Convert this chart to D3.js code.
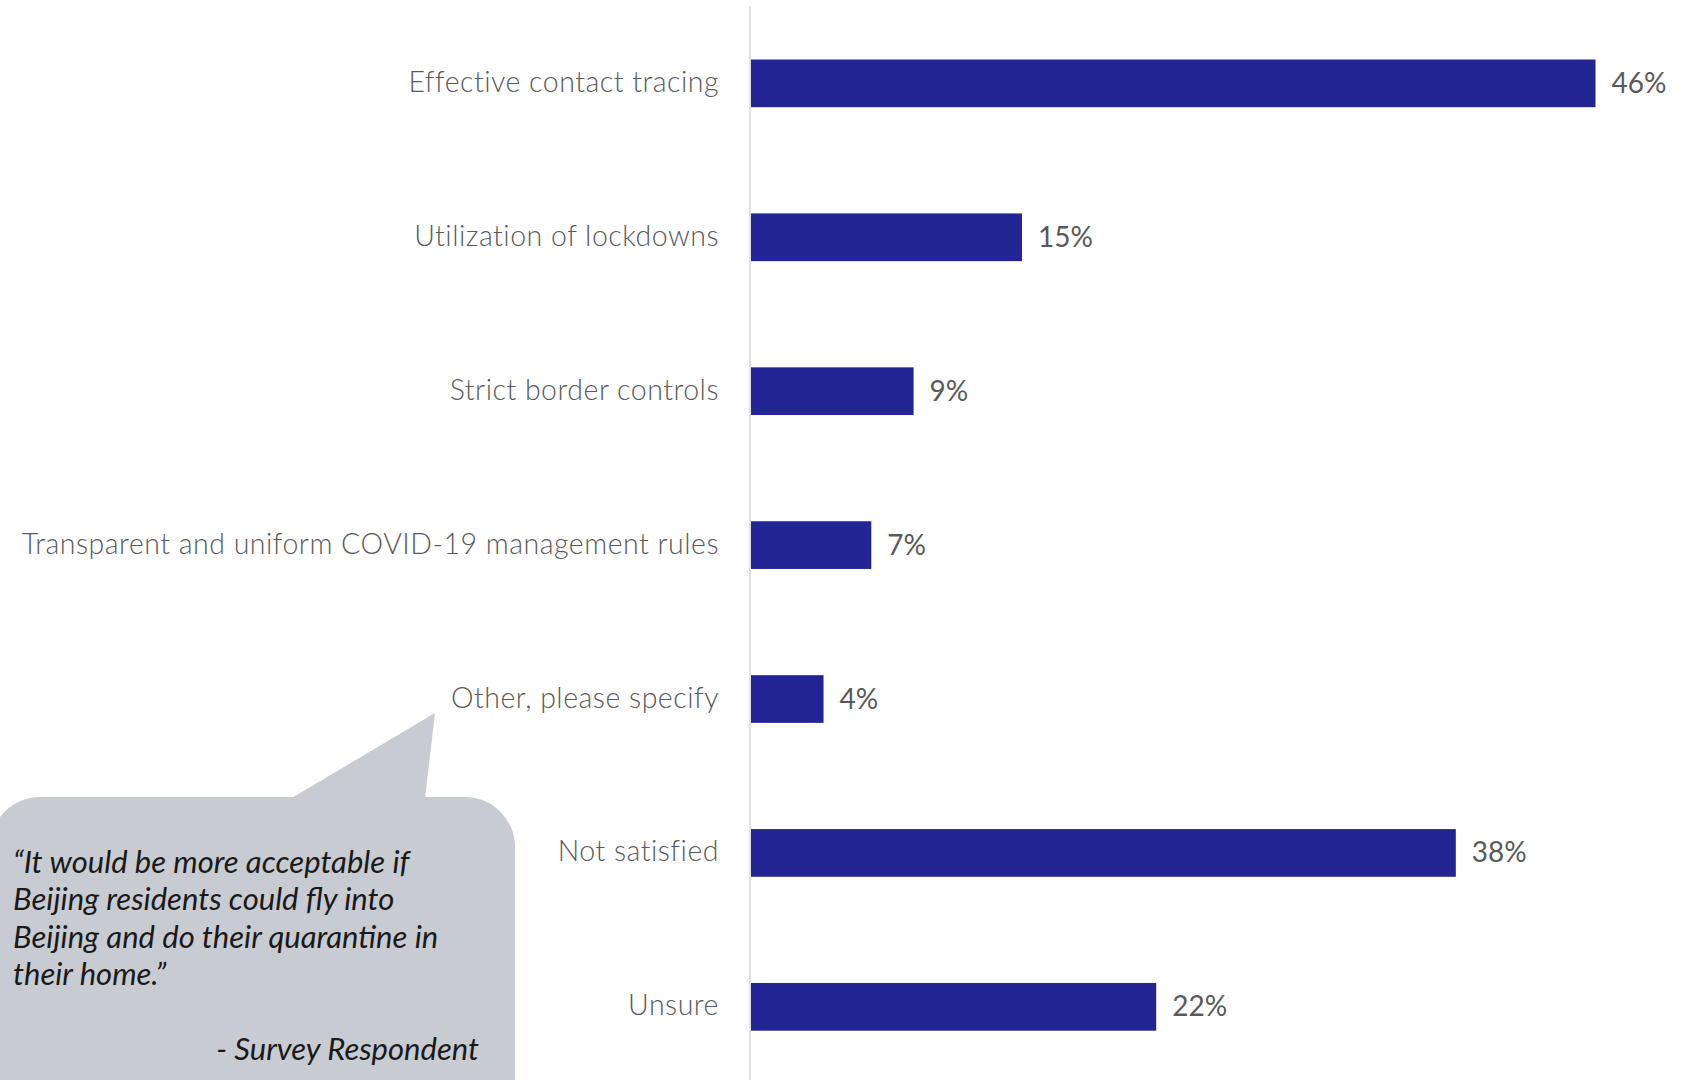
<!DOCTYPE html>
<html>
<head>
<meta charset="utf-8">
<script src="https://cdn.jsdelivr.net/npm/d3@7/dist/d3.min.js"></script>
<style>
  html, body { margin: 0; padding: 0; background: #ffffff; }
  svg { display: block; }
</style>
</head>
<body>
<svg id="chart" width="1696" height="1080"></svg>
<script>
const categories = [
  "Effective contact tracing",
  "Utilization of lockdowns",
  "Strict border controls",
  "Transparent and uniform COVID-19 management rules",
  "Other, please specify",
  "Not satisfied",
  "Unsure"
];
const values = [46, 14.8, 8.9, 6.6, 4.0, 38.4, 22.1];
const valueLabels = ["46%", "15%", "9%", "7%", "4%", "38%", "22%"];
const quoteLines = [
  "\u201cIt would be more acceptable if",
  "Beijing residents could fly into",
  "Beijing and do their quarantine in",
  "their home.\u201d"
];
const quoteAuthor = "- Survey Respondent";

const svg = d3.select("#chart");
const W = 1696, H = 1080;
const axisX = 750;

const x = d3.scaleLinear().domain([0, 46]).range([axisX, 1595.5]);
const y = d3.scaleBand().domain(categories).range([6.4, 1083.8])
  .paddingInner(0.69).paddingOuter(0.345);

// axis line
svg.append("line")
  .attr("x1", axisX).attr("x2", axisX)
  .attr("y1", 6).attr("y2", H)
  .attr("stroke", "#d9d9d9").attr("stroke-width", 1.6);

// bars
svg.selectAll("rect.bar").data(values).join("rect")
  .attr("class", "bar")
  .attr("x", x(0) + 1)
  .attr("y", (d, i) => y(categories[i]))
  .attr("width", d => x(d) - x(0) - 1)
  .attr("height", y.bandwidth())
  .attr("fill", "#222593");

// category labels
svg.selectAll("text.cat").data(categories).join("text")
  .attr("class", "cat")
  .attr("x", 719)
  .attr("y", d => y(d) + y.bandwidth() / 2)
  .attr("dy", "0.3em")
  .attr("text-anchor", "end")
  .attr("font-family", "Lato, 'Open Sans', sans-serif")
  .attr("font-weight", 300)
  .attr("font-size", 28.5)
  .attr("letter-spacing", 0.5)
  .attr("fill", "#595959")
  .text(d => d);

// value labels
svg.selectAll("text.val").data(values).join("text")
  .attr("class", "val")
  .attr("x", d => x(d) + 16)
  .attr("y", (d, i) => y(categories[i]) + y.bandwidth() / 2)
  .attr("dy", "0.34em")
  .attr("font-family", "Lato, 'Open Sans', sans-serif")
  .attr("font-weight", 400)
  .attr("font-size", 28)
  .attr("fill", "#595959")
  .text((d, i) => valueLabels[i]);

// speech bubble
const bubble = svg.append("g");
bubble.append("path")
  .attr("d", "M290,799 L435,713 L425,799 Z")
  .attr("fill", "#c8cbd2");
bubble.append("rect")
  .attr("x", -10).attr("y", 797)
  .attr("width", 525).attr("height", 340)
  .attr("rx", 50).attr("ry", 50)
  .attr("fill", "#c8cbd2");

bubble.selectAll("text.q").data(quoteLines).join("text")
  .attr("class", "q")
  .attr("x", 13)
  .attr("y", (d, i) => 873 + i * 37.3)
  .attr("font-family", "Lato, 'Open Sans', sans-serif")
  .attr("font-style", "italic")
  .attr("font-size", 31)
  .attr("fill", "#1a1a1a")
  .text(d => d);

bubble.append("text")
  .attr("x", 479).attr("y", 1060)
  .attr("text-anchor", "end")
  .attr("font-family", "Lato, 'Open Sans', sans-serif")
  .attr("font-style", "italic")
  .attr("font-size", 31)
  .attr("fill", "#1a1a1a")
  .text(quoteAuthor);
</script>
</body>
</html>
